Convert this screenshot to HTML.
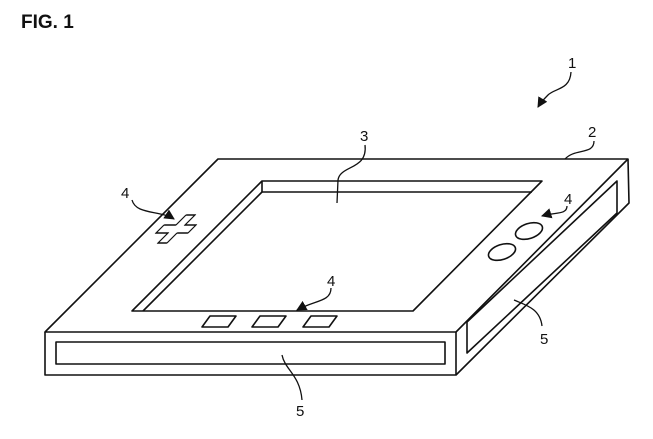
<!DOCTYPE html>
<html><head><style>
body{margin:0;background:#fff;width:653px;height:434px;overflow:hidden}
text{font-family:"Liberation Sans",sans-serif;fill:#111}
</style></head><body>
<svg width="653" height="434" viewBox="0 0 653 434" xmlns="http://www.w3.org/2000/svg">
<defs><marker id="a" viewBox="0 0 10 10" refX="9" refY="5" markerWidth="8" markerHeight="8" orient="auto"><path d="M0,0L10,5L0,10z" fill="#111"/></marker></defs>
<text x="21" y="28" font-size="19" font-weight="bold">FIG. 1</text>
<g fill="none" stroke="#111" stroke-width="1.6" stroke-linejoin="round">
<!-- body -->
<path d="M218,159 L628,159 L456,332 L45,332 Z"/>
<path d="M45,332 L45,375 L456,375 L456,332"/>
<path d="M628,159 L629,203 L456,375"/>
<rect x="56" y="342" width="389" height="22"/>
<path d="M467,322 L617,181 L617,213 L467,353 Z"/>
<!-- screen -->
<path d="M262,181 L542,181 L413,311 L132,311 Z"/>
<path d="M262,181 L262,192 L532,192"/>
<path d="M262,192 L143,311"/>
<!-- buttons -->
<path d="M210,316 L236,316 L228,327 L202,327 Z"/>
<path d="M260,316 L286,316 L278,327 L252,327 Z"/>
<path d="M311,316 L337,316 L329,327 L303,327 Z"/>
<ellipse cx="529" cy="231" rx="14" ry="7.5" transform="rotate(-18 529 231)"/>
<ellipse cx="502" cy="252" rx="14" ry="7.5" transform="rotate(-18 502 252)"/>
<path transform="translate(176,229) skewX(-45)" d="M-4,-14 L5,-14 L5,-4 L16,-4 L16,4 L5,4 L5,14 L-4,14 L-4,4 L-16,4 L-16,-4 L-4,-4 Z"/>
<!-- leaders -->
<path d="M571,72 C570,90 555,88 548,95 C544,99 541,102 538,107" marker-end="url(#a)" stroke-width="1.3"/>
<path d="M594,141 C594,155 575,148 565,159" stroke-width="1.3"/>
<path d="M365,145 C368,170 340,165 338,180 L337,203" stroke-width="1.3"/>
<path d="M132,200 C136,215 160,210 174,219" marker-end="url(#a)" stroke-width="1.3"/>
<path d="M331,288 C331,302 315,300 297,310" marker-end="url(#a)" stroke-width="1.3"/>
<path d="M567,206 C567,215 555,212 542,216" marker-end="url(#a)" stroke-width="1.3"/>
<path d="M282,355 C285,370 300,375 302,400" stroke-width="1.3"/>
<path d="M514,300 C525,305 540,308 542,326" stroke-width="1.3"/>
</g>
<g font-size="15">
<text x="568" y="68">1</text>
<text x="588" y="137">2</text>
<text x="360" y="141">3</text>
<text x="121" y="198">4</text>
<text x="327" y="286">4</text>
<text x="564" y="204">4</text>
<text x="296" y="416">5</text>
<text x="540" y="344">5</text>
</g>
</svg>
</body></html>
